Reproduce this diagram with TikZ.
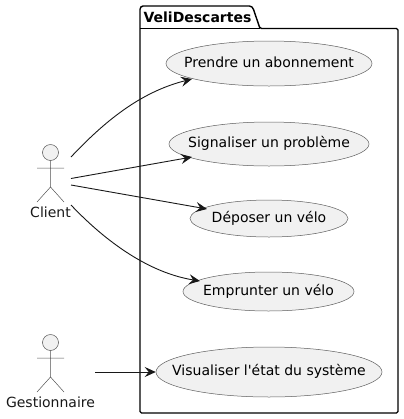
\documentclass[tikz,border=0pt]{standalone}
\usepackage{fontspec}
\newfontfamily\plainf{DejaVu Sans}
\usetikzlibrary{arrows.meta,shapes.geometric}
\definecolor{fillc}{HTML}{F1F1F1}
\definecolor{edgec}{HTML}{181818}
\newcommand\zt[1]{\makebox[0pt][c]{\raisebox{-0.36em}[0pt][0pt]{\plainf\fontsize{14bp}{16bp}\selectfont #1}}}
\tikzset{
  x=1bp,y=-1bp,
  usecase/.style={ellipse,draw=edgec!70,fill=fillc,line width=0.5bp,inner sep=0pt},
  actorline/.style={draw=edgec!75,line width=0.5bp},
  actorhead/.style={circle,draw=edgec!75,fill=fillc,line width=0.5bp,minimum size=16bp,inner sep=0pt},
  actorlabel/.style={font=\plainf\fontsize{14bp}{16bp}\selectfont,inner sep=0pt,text=edgec},
  conn/.style={draw=edgec,line width=0.9bp,-{Stealth[length=11bp,width=10bp,inset=4bp]}},
  pack/.style={draw=black,line width=1.4bp,line join=round}
}
\begin{document}
\begin{tikzpicture}
\useasboundingbox (0,0) rectangle (404,419);
% package
\draw[pack,rounded corners=1.5bp] (140,28.5) -- (140,8) -- (141.5,6) -- (251,6) -- (253,8) -- (260,28.5) -- (398,28.5) -- (398,413) -- (140,413) -- cycle;
\draw[pack] (140,28.5) -- (260,28.5);
\node[font=\plainf\bfseries\fontsize{14bp}{16bp}\selectfont,inner sep=0pt] (pkg) at (197.5,17) {VeliDescartes};
% use cases
\node[usecase,minimum width=206bp,minimum height=45bp] (a) at (269,63.5) {\zt{Prendre un abonnement}};
\node[usecase,minimum width=200bp,minimum height=44bp] (b) at (269,144) {\zt{Signaliser un problème}};
\node[usecase,minimum width=158bp,minimum height=37bp] (c) at (269,218.5) {\zt{Déposer un vélo}};
\node[usecase,minimum width=171bp,minimum height=39bp] (d) at (268.5,291.5) {\zt{Emprunter un vélo}};
\node[usecase,minimum width=226bp,minimum height=50bp] (e) at (269,372) {\zt{Visualiser l'état du système}};
% actor Client
\node[actorhead] (h1) at (50.5,152.5) {};
\coordinate (w1) at (50.5,187);
\coordinate (ar1l) at (37,168);
\coordinate (ar1r) at (64,168);
\coordinate (le1l) at (37,202);
\coordinate (le1r) at (64,202);
\draw[actorline] (h1.south) -- (w1) (ar1l) -- (ar1r) (le1l) -- (w1) -- (le1r);
\node[actorlabel] (l1) at (50.5,212) {Client};
% actor Gestionnaire
\node[actorhead] (h2) at (50.5,342.5) {};
\coordinate (w2) at (50.5,377);
\coordinate (ar2l) at (37,358);
\coordinate (ar2r) at (64,358);
\coordinate (le2l) at (37,392);
\coordinate (le2r) at (64,392);
\draw[actorline] (h2.south) -- (w2) (ar2l) -- (ar2r) (le2l) -- (w2) -- (le2r);
\node[actorlabel] (l2) at (50.5,402) {Gestionnaire};
% connectors
\coordinate (s1) at (71,157);
\coordinate (s2) at (71,178.5);
\coordinate (s3) at (71,185);
\coordinate (s4) at (71,205);
\coordinate (s5) at (95,372);
\coordinate (ta) at (192,79);
\coordinate (tb) at (192,157);
\coordinate (tc) at (207,209);
\coordinate (td) at (200,281);
\draw[conn] (s1) .. controls (104,122) and (140,92) .. (ta);
\draw[conn] (s2) -- (tb);
\draw[conn] (s3) -- (tc);
\draw[conn] (s4) .. controls (107,243) and (150,273) .. (td);
\draw[conn] (s5) -- (e.west);
\end{tikzpicture}
\end{document}
